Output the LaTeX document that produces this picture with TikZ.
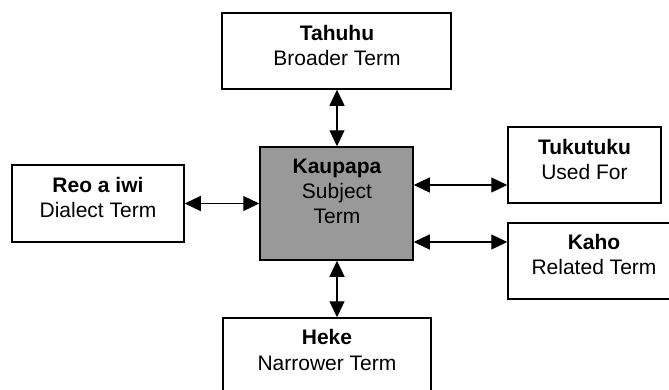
\documentclass[tikz,border=0pt]{standalone}
\usepackage{fontspec}
\setmainfont{Liberation Sans}
\usetikzlibrary{arrows.meta}
\definecolor{subjgray}{RGB}{153,153,153}
\tikzset{
  box/.style={draw=black, line width=1.5pt, inner sep=0pt, fill=white},
  subj/.style={box, fill=subjgray},
  lbl/.style={anchor=base, inner sep=0pt, font=\fontsize{21}{25}\selectfont},
  lblb/.style={lbl, font=\fontsize{21}{25}\selectfont\bfseries},
  tip/.tip={Triangle[length=16pt 0, width=15pt 0]},
  dbl/.style={line width=1.2pt, tip-tip}
}
\begin{document}
\begin{tikzpicture}[x=1pt,y=-1pt]
\clip (0,0) rectangle (669,389);
\fill[white] (0,0) rectangle (669,389);
% boxes
\node[box, minimum width=229pt, minimum height=76pt] (tahuhu) at (336.5,51) {};
\node[box, minimum width=172pt, minimum height=77pt] (reo) at (98,203.5) {};
\node[subj, minimum width=153pt, minimum height=113pt] (kaupapa) at (336.5,203.5) {};
\node[box, minimum width=153pt, minimum height=76pt] (tukutuku) at (584.5,165) {};
\node[box, minimum width=172pt, minimum height=76pt] (kaho) at (594,261) {};
\node[box, minimum width=208pt, minimum height=77pt] (heke) at (327,356.5) {};
% labels
\node[lblb] (tahuhu-a) at (337,40) {Tahuhu};
\node[lbl]  (tahuhu-b) at (337,65) {Broader Term};
\node[lblb] (reo-a) at (98,192) {Reo a iwi};
\node[lbl]  (reo-b) at (98,217) {Dialect Term};
\node[lblb] (kaupapa-a) at (337,173) {Kaupapa};
\node[lbl]  (kaupapa-b) at (337,198) {Subject};
\node[lbl]  (kaupapa-c) at (337,223) {Term};
\node[lblb] (tukutuku-a) at (584.5,154) {Tukutuku};
\node[lbl]  (tukutuku-b) at (584.5,179) {Used For};
\node[lblb] (kaho-a) at (594,249) {Kaho};
\node[lbl]  (kaho-b) at (594,274) {Related Term};
\node[lblb] (heke-a) at (327,344) {Heke};
\node[lbl]  (heke-b) at (327,370) {Narrower Term};
% connectors
\coordinate (vx) at (337,0);
\coordinate (uf) at (0,185);
\coordinate (rt) at (0,242);
\draw[dbl] (tahuhu.south -| vx) -- (kaupapa.north -| vx);
\draw[dbl] (kaupapa.south -| vx) -- (heke.north -| vx);
\draw[dbl] (reo.east) -- (kaupapa.west);
\draw[dbl] (kaupapa.east |- uf) -- (tukutuku.west |- uf);
\draw[dbl] (kaupapa.east |- rt) -- (kaho.west |- rt);
\end{tikzpicture}
\end{document}
